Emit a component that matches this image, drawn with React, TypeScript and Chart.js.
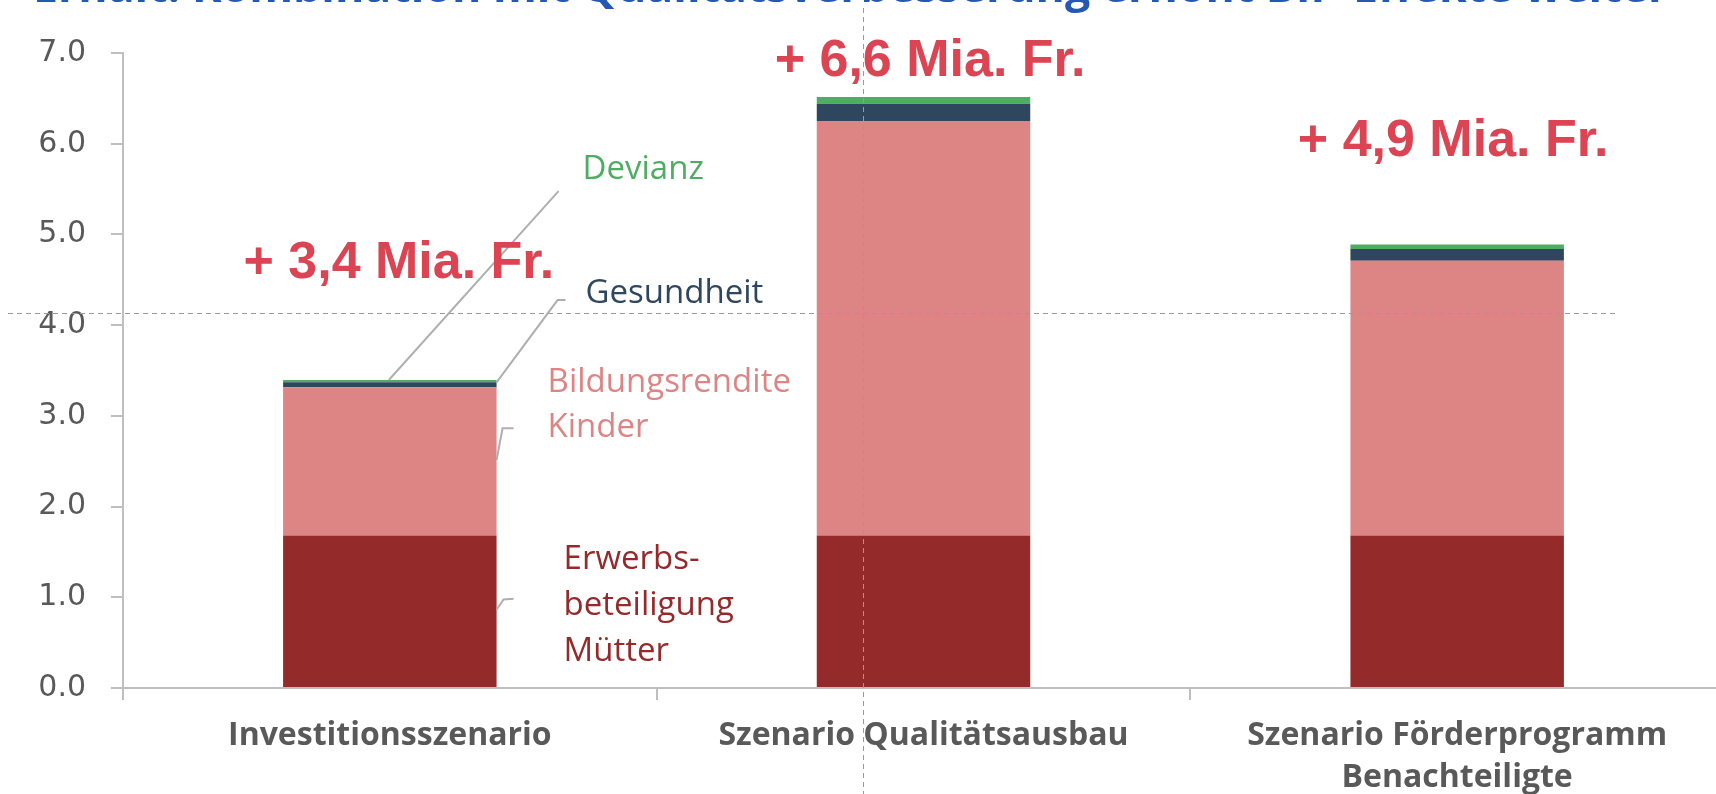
import React, { useEffect, useRef } from "react";
import { Chart, registerables } from "chart.js";

Chart.register(...registerables);

// ---------- data ----------
const categories: string[][] = [
  ["Investitionsszenario"],
  ["Szenario Qualitätsausbau"],
  ["Szenario Förderprogramm", "Benachteiligte"],
];
const erwerbsbeteiligung = [1.68, 1.68, 1.68];
const bildungsrendite = [1.635, 4.57, 3.03];
const gesundheit = [0.055, 0.19, 0.13];
const devianz = [0.025, 0.075, 0.05];
const totalLabels = ["+ 3,4 Mia. Fr.", "+ 6,6 Mia. Fr.", "+ 4,9 Mia. Fr."];
const yMin = 0;
const yMax = 7;
const yStep = 1;
const titleText = "Erhalt: Kombination mit Qualitätsverbesserung erhöht BIP-Effekte weiter";

const COLORS = {
  erwerbs: "#952A2B",
  bildung: "#DC8584",
  gesundheit: "#2F475E",
  devianz: "#4EAD63",
  total: "#DA4453",
  axis: "#BFBFBF",
  tick: "#595959",
  leader: "#AFAFAF",
  title: "#2458B3",
  guide: "#9A9A9A",
};

const annotationPlugin = {
  id: "annotations",
  afterDatasetsDraw(chart: any) {
    const ctx = chart.ctx as CanvasRenderingContext2D;
    const y = chart.scales.y;
    const meta0 = chart.getDatasetMeta(0);
    const bar0 = meta0.data[0];
    const xC0 = bar0.x;
    const xR0 = bar0.x + bar0.width / 2;
    const py = (v: number) => y.getPixelForValue(v);
    const stackTop = (i: number) =>
      erwerbsbeteiligung[i] + bildungsrendite[i] + gesundheit[i] + devianz[i];

    ctx.save();
    // leader lines
    ctx.strokeStyle = COLORS.leader;
    ctx.lineWidth = 2;
    const line = (pts: [number, number][]) => {
      ctx.beginPath();
      pts.forEach(([x, yy], k) => (k === 0 ? ctx.moveTo(x, yy) : ctx.lineTo(x, yy)));
      ctx.stroke();
    };
    line([
      [xC0 - 1, py(stackTop(0))],
      [xR0 + 62, py(5.477)],
    ]);
    line([
      [xR0, py(erwerbsbeteiligung[0] + bildungsrendite[0] + gesundheit[0])],
      [xR0 + 61, py(4.276)],
      [xR0 + 69, py(4.276)],
    ]);
    line([
      [xR0, py(2.514)],
      [xR0 + 6, py(2.863)],
      [xR0 + 17, py(2.863)],
    ]);
    line([
      [xR0, py(0.862)],
      [xR0 + 7, py(0.975)],
      [xR0 + 17, py(0.983)],
    ]);

    // segment labels
    ctx.font = '33px "Open Sans"';
    ctx.textAlign = "left";
    ctx.textBaseline = "alphabetic";
    ctx.fillStyle = COLORS.devianz;
    ctx.fillText("Devianz", xR0 + 86, py(5.606));
    ctx.fillStyle = COLORS.gesundheit;
    ctx.fillText("Gesundheit", xR0 + 89, py(4.247));
    ctx.fillStyle = COLORS.bildung;
    ctx.fillText("Bildungsrendite", xR0 + 51, py(3.266));
    ctx.fillText("Kinder", xR0 + 51, py(2.771));
    ctx.fillStyle = COLORS.erwerbs;
    ctx.fillText("Erwerbs-", xR0 + 67, py(1.314));
    ctx.fillText("beteiligung", xR0 + 67, py(0.808));
    ctx.fillText("Mütter", xR0 + 67, py(0.293));

    // totals
    const totalY = [4.68, 6.905, 6.025];
    const totalDx = [9, 6.5, -4];
    ctx.font = 'bold 52px "Liberation Sans", Arial, sans-serif';
    ctx.fillStyle = COLORS.total;
    ctx.textAlign = "center";
    ctx.textBaseline = "middle";
    meta0.data.forEach((bar: any, i: number) => {
      ctx.fillText(totalLabels[i], bar.x + totalDx[i], py(totalY[i]));
    });

    // guide lines (dashed)
    ctx.strokeStyle = COLORS.guide;
    ctx.lineWidth = 1;
    ctx.setLineDash([5, 4]);
    ctx.beginPath();
    ctx.moveTo(8, 313.5);
    ctx.lineTo(1617, 313.5);
    ctx.moveTo(863.5, 8);
    ctx.lineTo(863.5, chart.height);
    ctx.stroke();
    ctx.setLineDash([]);

    // title (cut off at the top)
    ctx.fillStyle = COLORS.title;
    ctx.textAlign = "left";
    ctx.textBaseline = "alphabetic";
    ctx.font = 'bold 40px "Open Sans"';
    const w = ctx.measureText(titleText).width;
    const size = (40 * 1636) / w;
    ctx.font = `bold ${size}px "Open Sans"`;
    ctx.fillText(titleText, 33, 1.5);
    ctx.restore();
  },
};

export default function App() {
  const ref = useRef<HTMLCanvasElement | null>(null);

  useEffect(() => {
    if (!ref.current) return;
    const mk = (label: string, data: number[], color: string) => ({
      label,
      data,
      backgroundColor: color,
      borderWidth: 0,
      barPercentage: 0.4,
      categoryPercentage: 1.0,
    });
    const chart = new Chart(ref.current, {
      type: "bar",
      data: {
        labels: categories,
        datasets: [
          mk("Erwerbsbeteiligung Mütter", erwerbsbeteiligung, COLORS.erwerbs),
          mk("Bildungsrendite Kinder", bildungsrendite, COLORS.bildung),
          mk("Gesundheit", gesundheit, COLORS.gesundheit),
          mk("Devianz", devianz, COLORS.devianz),
        ],
      },
      options: {
        responsive: false,
        animation: false,
        layout: { padding: { top: 53, left: 0, right: 2, bottom: 0 } },
        plugins: {
          legend: { display: false },
          tooltip: { enabled: false },
          title: { display: false },
        },
        scales: {
          x: {
            stacked: true,
            grid: {
              offset: true,
              drawOnChartArea: false,
              drawTicks: true,
              tickLength: 12,
              color: COLORS.axis,
              lineWidth: 2,
            },
            border: { color: COLORS.axis, width: 2 },
            ticks: {
              color: COLORS.tick,
              padding: 15,
              maxRotation: 0,
              autoSkip: false,
              font: { family: '"Open Sans"', weight: "bold", size: 32, lineHeight: 1.3 },
            },
            afterFit: (s: any) => {
              s.height = 106;
            },
          },
          y: {
            stacked: true,
            min: yMin,
            max: yMax,
            grid: {
              drawOnChartArea: false,
              drawTicks: true,
              tickLength: 12,
              color: COLORS.axis,
              lineWidth: 2,
            },
            border: { color: COLORS.axis, width: 2 },
            ticks: {
              stepSize: yStep,
              color: COLORS.tick,
              padding: 25,
              font: { family: '"DejaVu Sans"', size: 30 },
              callback: (v: any) => Number(v).toFixed(1),
            },
            afterFit: (s: any) => {
              s.width = 123;
            },
          },
        },
      },
      plugins: [annotationPlugin],
    });
    return () => chart.destroy();
  }, []);

  return (
    <div
      style={{
        position: "fixed",
        left: 0,
        top: 0,
        width: 1716,
        height: 794,
        overflow: "hidden",
        background: "#ffffff",
      }}
    >
      <canvas ref={ref} width={1726} height={794} style={{ display: "block" }} />
    </div>
  );
}
